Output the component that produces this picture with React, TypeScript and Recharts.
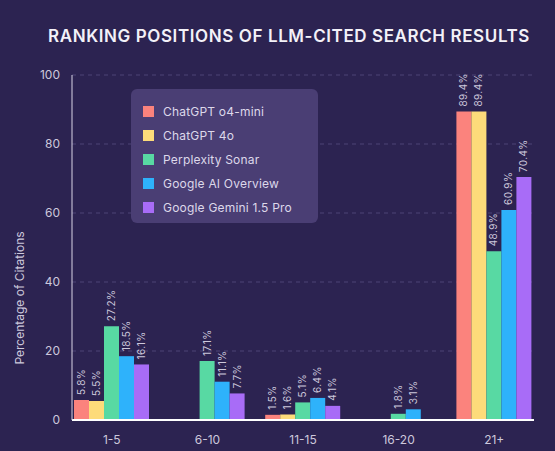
import { BarChart, Bar, XAxis, YAxis, CartesianGrid, Legend, LabelList, Label } from "recharts";

const categories = ["1-5", "6-10", "11-15", "16-20", "21+"];
const o4mini = [5.8, 0, 1.5, 0, 89.4];
const gpt4o = [5.5, 0, 1.6, 0, 89.4];
const sonar = [27.2, 17.1, 5.1, 1.8, 48.9];
const aiOverview = [18.5, 11.1, 6.4, 3.1, 60.9];
const gemini = [16.1, 7.7, 4.1, 0, 70.4];
const yTicks = [0, 20, 40, 60, 80, 100];

const series = [
  { key: "o4mini", name: "ChatGPT o4-mini", color: "#fb837d", values: o4mini },
  { key: "gpt4o", name: "ChatGPT 4o", color: "#fddb7a", values: gpt4o },
  { key: "sonar", name: "Perplexity Sonar", color: "#58d9a3", values: sonar },
  { key: "aiOverview", name: "Google AI Overview", color: "#2eb2fb", values: aiOverview },
  { key: "gemini", name: "Google Gemini 1.5 Pro", color: "#a86cf7", values: gemini },
];

const data = categories.map((cat, i) => {
  const row: Record<string, string | number> = { cat };
  series.forEach((s) => {
    row[s.key] = s.values[i];
  });
  return row;
});

const BG = "#2c2351";
const TEXT = "#cdc8dc";
const FONT = "Inter, 'Noto Sans', sans-serif";

function ValueLabel(props: any) {
  const { x, y, width, value } = props;
  if (!value) return null;
  const cx = x + width / 2 + 3.5;
  const cy = y - 5;
  return (
    <text
      x={cx}
      y={cy}
      transform={`rotate(-90 ${cx} ${cy})`}
      fill={TEXT}
      fontSize={10}
      letterSpacing={0.4}
      fontFamily={FONT}
      textAnchor="start"
    >
      {`${value}%`}
    </text>
  );
}

function LegendBox() {
  return (
    <div
      style={{
        background: "#4a3e74",
        borderRadius: 6,
        padding: "10px 12px",
        boxSizing: "border-box",
        width: 187,
        height: 134,
      }}
    >
      {series.map((s) => (
        <div
          key={s.key}
          style={{ display: "flex", alignItems: "center", height: 24, fontFamily: FONT }}
        >
          <span
            style={{ width: 11, height: 11, background: s.color, display: "inline-block", marginRight: 9 }}
          />
          <span style={{ color: "#ddd8ea", fontSize: 12, letterSpacing: 0.2 }}>{s.name}</span>
        </div>
      ))}
    </div>
  );
}

export default function App() {
  return (
    <div
      style={{
        position: "absolute",
        left: 0,
        top: 0,
        width: 555,
        height: 451,
        background: BG,
        overflow: "hidden",
      }}
    >
      <div
        style={{
          position: "absolute",
          top: 26,
          left: 0,
          width: 578,
          textAlign: "center",
          color: "#f3f1f8",
          fontFamily: FONT,
          fontWeight: 600,
          fontSize: 17,
          letterSpacing: 0.6,
        }}
      >
        RANKING POSITIONS OF LLM-CITED SEARCH RESULTS
      </div>
      <BarChart
        width={555}
        height={451}
        data={data}
        margin={{ top: 75, right: 21, bottom: 0, left: 0 }}
        barSize={15}
        barGap={0}
        style={{ position: "absolute", left: 0, top: 0 }}
      >
        <CartesianGrid vertical={false} stroke="#4c4476" strokeDasharray="4 4" />
        <XAxis
          dataKey="cat"
          height={31}
          padding={{ left: -8, right: -8 }}
          tickSize={0}
          tickMargin={15}
          tick={{ fill: TEXT, fontSize: 12, fontFamily: FONT }}
          axisLine={{ stroke: "#ffffff", strokeWidth: 2 }}
        />
        <YAxis
          width={72}
          domain={[0, 100]}
          ticks={yTicks}
          tickSize={0}
          tickMargin={12}
          tick={{ fill: TEXT, fontSize: 12, fontFamily: FONT }}
          axisLine={{ stroke: "#d9d5e6" }}
        >
          <Label
            content={() => (
              <text
                x={24}
                y={298}
                transform="rotate(-90 24 298)"
                fill={TEXT}
                fontSize={12}
                fontFamily={FONT}
                textAnchor="middle"
              >
                Percentage of Citations
              </text>
            )}
          />
        </YAxis>
        <Legend
          layout="vertical"
          align="center"
          verticalAlign="middle"
          content={() => <LegendBox />}
          wrapperStyle={{ left: 131, top: 89, width: 187, height: 134 }}
        />
        {series.map((s) => (
          <Bar key={s.key} dataKey={s.key} name={s.name} fill={s.color} isAnimationActive={false}>
            <LabelList dataKey={s.key} content={<ValueLabel />} />
          </Bar>
        ))}
      </BarChart>
    </div>
  );
}
